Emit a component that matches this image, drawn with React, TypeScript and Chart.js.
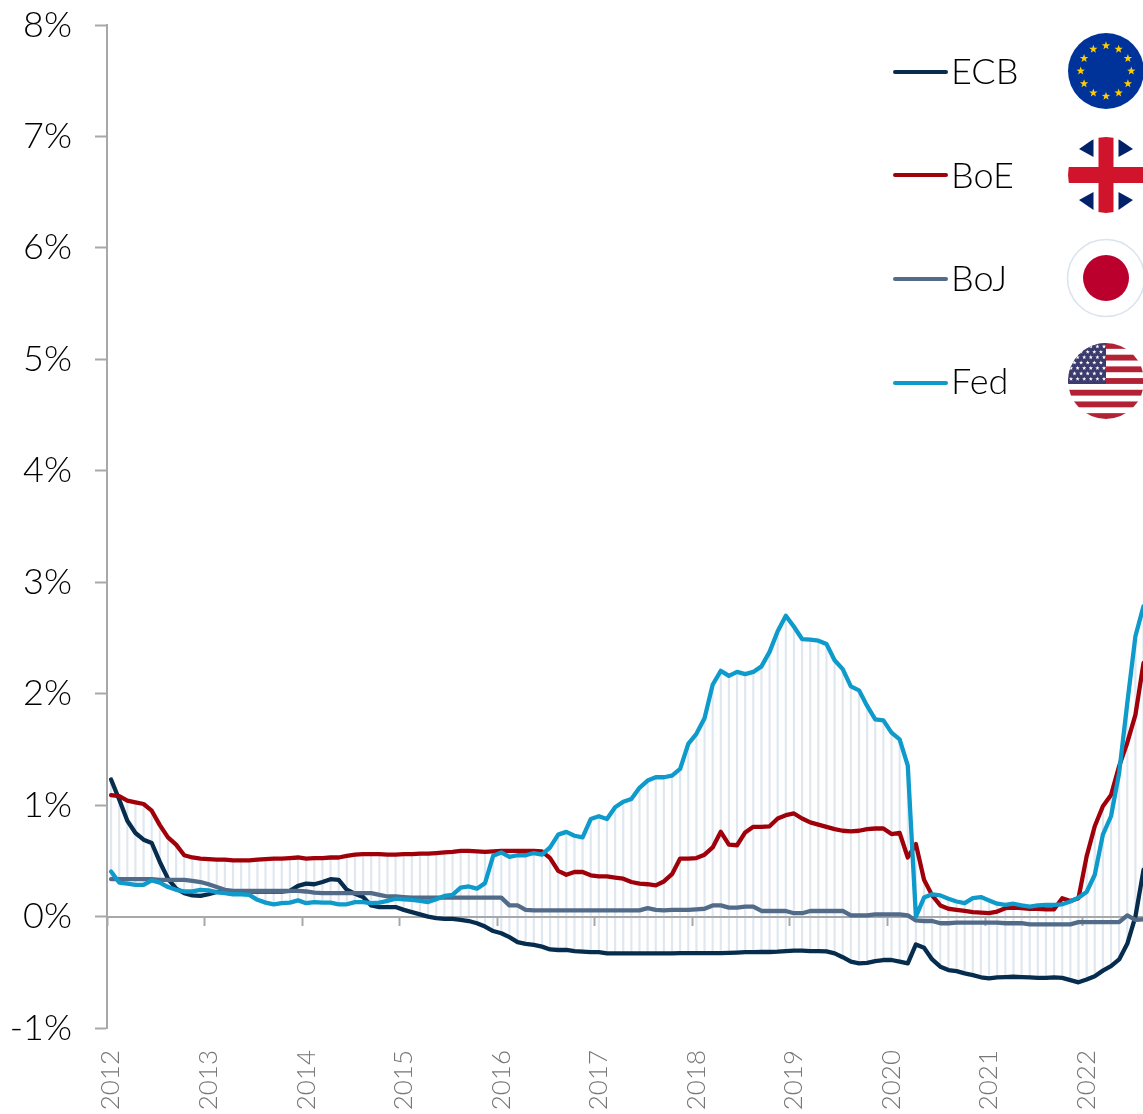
import React, { useEffect, useRef } from "react";
import { Chart, registerables } from "chart.js";

Chart.register(...registerables);

const YEARS = ["2012", "2013", "2014", "2015", "2016", "2017", "2018", "2019", "2020", "2021", "2022"];
const MONTHS = ["01", "02", "03", "04", "05", "06", "07", "08", "09", "10", "11", "12"];
const categories: string[] = [];
YEARS.forEach((y) => MONTHS.forEach((m) => categories.push(`${y}-${m}`)));
categories.length = 128;

const ecb = [
  1.23, 1.05, 0.86, 0.75, 0.69, 0.66, 0.49, 0.34, 0.25, 0.21, 0.19, 0.185,
  0.2, 0.22, 0.22, 0.225, 0.225, 0.225, 0.225, 0.225, 0.225, 0.225, 0.23, 0.275,
  0.295, 0.29, 0.31, 0.335, 0.33, 0.24, 0.205, 0.175, 0.1, 0.085, 0.085, 0.085,
  0.06, 0.04, 0.02, 0, -0.015, -0.02, -0.02, -0.03, -0.04, -0.06, -0.09, -0.13,
  -0.15, -0.185, -0.23, -0.245, -0.255, -0.27, -0.295, -0.3, -0.3, -0.31, -0.315, -0.32,
  -0.32, -0.33, -0.33, -0.33, -0.33, -0.33, -0.33, -0.33, -0.33, -0.33, -0.328, -0.328,
  -0.328, -0.328, -0.328, -0.328, -0.325, -0.323, -0.32, -0.32, -0.318, -0.318, -0.315, -0.31,
  -0.305, -0.305, -0.31, -0.31, -0.313, -0.33, -0.365, -0.405, -0.42, -0.415, -0.4, -0.39,
  -0.39, -0.405, -0.42, -0.25, -0.28, -0.385, -0.45, -0.48, -0.49, -0.51, -0.525, -0.545,
  -0.555, -0.545, -0.543, -0.54, -0.543, -0.545, -0.55, -0.55, -0.545, -0.55, -0.57, -0.59,
  -0.565, -0.535, -0.485, -0.445, -0.385, -0.245, 0, 0.42,
];
const boe = [
  1.09, 1.08, 1.04, 1.025, 1.01, 0.95, 0.82, 0.71, 0.645, 0.55, 0.53, 0.52,
  0.515, 0.51, 0.51, 0.505, 0.505, 0.505, 0.51, 0.515, 0.52, 0.52, 0.525, 0.53,
  0.52, 0.525, 0.525, 0.53, 0.53, 0.545, 0.555, 0.56, 0.56, 0.56, 0.555, 0.555,
  0.56, 0.56, 0.565, 0.565, 0.57, 0.575, 0.58, 0.59, 0.59, 0.585, 0.58, 0.585,
  0.59, 0.59, 0.59, 0.59, 0.59, 0.585, 0.525, 0.41, 0.375, 0.4, 0.4, 0.37,
  0.36, 0.36, 0.35, 0.34, 0.31, 0.295, 0.29, 0.28, 0.315, 0.38, 0.52, 0.52,
  0.525, 0.555, 0.62, 0.76, 0.645, 0.64, 0.755, 0.805, 0.805, 0.81, 0.88, 0.91,
  0.925, 0.88, 0.845, 0.825, 0.805, 0.785, 0.77, 0.765, 0.77, 0.785, 0.79, 0.79,
  0.74, 0.75, 0.53, 0.65, 0.33, 0.19, 0.1, 0.07, 0.06, 0.05, 0.04, 0.035,
  0.03, 0.045, 0.075, 0.08, 0.075, 0.07, 0.07, 0.065, 0.065, 0.165, 0.14, 0.165,
  0.54, 0.81, 0.99, 1.09, 1.35, 1.56, 1.81, 2.275,
];
const boj = [
  0.335, 0.335, 0.335, 0.335, 0.335, 0.335, 0.33, 0.33, 0.33, 0.33, 0.32, 0.31,
  0.29, 0.265, 0.24, 0.23, 0.23, 0.23, 0.23, 0.23, 0.23, 0.23, 0.23, 0.23,
  0.225, 0.215, 0.21, 0.21, 0.21, 0.21, 0.21, 0.21, 0.21, 0.195, 0.18, 0.18,
  0.175, 0.17, 0.17, 0.17, 0.17, 0.17, 0.17, 0.17, 0.17, 0.17, 0.17, 0.17,
  0.17, 0.1, 0.1, 0.06, 0.055, 0.055, 0.055, 0.055, 0.055, 0.055, 0.055, 0.055,
  0.055, 0.055, 0.055, 0.055, 0.055, 0.055, 0.075, 0.06, 0.055, 0.06, 0.06, 0.06,
  0.065, 0.07, 0.1, 0.1, 0.08, 0.08, 0.09, 0.09, 0.05, 0.05, 0.05, 0.05,
  0.03, 0.03, 0.05, 0.05, 0.05, 0.05, 0.05, 0.01, 0.01, 0.01, 0.02, 0.02,
  0.02, 0.02, 0.01, -0.035, -0.04, -0.04, -0.06, -0.06, -0.055, -0.055, -0.055, -0.055,
  -0.055, -0.055, -0.06, -0.06, -0.06, -0.07, -0.07, -0.07, -0.07, -0.07, -0.07, -0.05,
  -0.05, -0.05, -0.05, -0.05, -0.05, 0.01, -0.03, -0.025,
];
const fed = [
  0.405, 0.305, 0.295, 0.285, 0.285, 0.325, 0.305, 0.265, 0.24, 0.225, 0.225, 0.24,
  0.235, 0.22, 0.21, 0.2, 0.2, 0.195, 0.15, 0.125, 0.11, 0.12, 0.125, 0.145,
  0.12, 0.13, 0.125, 0.125, 0.11, 0.11, 0.13, 0.13, 0.12, 0.125, 0.14, 0.16,
  0.155, 0.15, 0.14, 0.13, 0.155, 0.185, 0.195, 0.26, 0.27, 0.25, 0.3, 0.545,
  0.575, 0.535, 0.55, 0.55, 0.57, 0.555, 0.62, 0.735, 0.76, 0.725, 0.71, 0.875,
  0.9, 0.875, 0.98, 1.03, 1.055, 1.155, 1.22, 1.25, 1.25, 1.265, 1.325, 1.55,
  1.64, 1.78, 2.08, 2.205, 2.16, 2.195, 2.175, 2.195, 2.245, 2.375, 2.56, 2.7,
  2.6, 2.49, 2.485, 2.475, 2.445, 2.3, 2.22, 2.065, 2.03, 1.89, 1.77, 1.76,
  1.65, 1.59, 1.355, 0, 0.17, 0.2, 0.19, 0.16, 0.135, 0.12, 0.165, 0.175,
  0.145, 0.115, 0.105, 0.115, 0.1, 0.09, 0.1, 0.105, 0.105, 0.11, 0.135, 0.17,
  0.22, 0.375, 0.735, 0.9, 1.29, 1.915, 2.515, 2.785,
];

const legendNames = ["ECB", "BoE", "BoJ", "Fed"];
const lineColors = ["#062c4e", "#a00009", "#516b88", "#0e9acb"];

const TEXT_FONT = "Lato";
const AXIS_GREY = "#a8a8a8";

function star(cx: number, cy: number, R: number, r: number) {
  return Array.from({ length: 10 }, (_, j) => {
    const rad = j % 2 === 0 ? R : r;
    const b = (j * Math.PI) / 5;
    return `${cx + rad * Math.sin(b)},${cy - rad * Math.cos(b)}`;
  }).join(" ");
}

function EuFlag() {
  const stars = Array.from({ length: 12 }, (_, k) => {
    const a = (k * Math.PI) / 6;
    return <polygon key={k} points={star(38 + 25.3 * Math.sin(a), 38 - 25.3 * Math.cos(a), 4.4, 1.8)} fill="#ffcc00" />;
  });
  return (
    <svg width="76" height="76" viewBox="0 0 76 76" style={{ display: "block" }}>
      <circle cx="38" cy="38" r="38" fill="#003399" />
      {stars}
    </svg>
  );
}

function UkFlag() {
  return (
    <svg width="76" height="76" viewBox="0 0 76 76" style={{ display: "block" }}>
      <defs>
        <clipPath id="ukc"><circle cx="38" cy="38" r="38" /></clipPath>
      </defs>
      <g clipPath="url(#ukc)">
        <rect width="76" height="76" fill="#fff" />
        <polygon points="11,12 25.5,2 25.5,20" fill="#012169" />
        <polygon points="65,12 50.5,2 50.5,20" fill="#012169" />
        <polygon points="11,63 25.5,55 25.5,73" fill="#012169" />
        <polygon points="65,63 50.5,55 50.5,73" fill="#012169" />
        <rect x="30.5" y="0" width="15" height="76" fill="#cf142b" />
        <rect x="0" y="30" width="76" height="16" fill="#cf142b" />
      </g>
    </svg>
  );
}

function JpFlag() {
  return (
    <svg width="80" height="80" viewBox="0 0 80 80" style={{ display: "block" }}>
      <circle cx="40" cy="40" r="38.5" fill="#fff" stroke="#dbe4ee" strokeWidth="1.6" />
      <circle cx="40" cy="40" r="23" fill="#bc002d" />
    </svg>
  );
}

function UsFlag() {
  const stripes = [0, 2, 4, 6, 8, 10, 12].map((k) => (
    <rect key={k} x="0" y={k * (76 / 13)} width="76" height={76 / 13} fill="#b22234" />
  ));
  const stars: any[] = [];
  for (let r = 0; r < 7; r++) {
    const n = r % 2 === 0 ? 6 : 5;
    for (let c = 0; c < n; c++) {
      stars.push(
        <polygon key={`${r}-${c}`} points={star((r % 2 === 0 ? 3 : 6.5) + c * 6.6, 3.5 + r * 5.4, 2.2, 0.9)} fill="#fff" />
      );
    }
  }
  return (
    <svg width="76" height="76" viewBox="0 0 76 76" style={{ display: "block" }}>
      <defs>
        <clipPath id="usc"><circle cx="38" cy="38" r="38" /></clipPath>
      </defs>
      <g clipPath="url(#usc)">
        <rect width="76" height="76" fill="#fff" />
        {stripes}
        <rect x="0" y="0" width="38" height={76 * 7 / 13} fill="#3c3b6e" />
        {stars}
      </g>
    </svg>
  );
}

const legendLayout = [
  { lineY: 71.7, textY: 71, flagY: 33, flagX: 1067.5, Flag: EuFlag },
  { lineY: 175, textY: 174.5, flagY: 137, flagX: 1067.5, Flag: UkFlag },
  { lineY: 279, textY: 278, flagY: 237.5, flagX: 1065.5, Flag: JpFlag },
  { lineY: 382.7, textY: 381, flagY: 343, flagX: 1067.5, Flag: UsFlag },
];

export default function App() {
  const ref = useRef<HTMLCanvasElement | null>(null);

  useEffect(() => {
    if (!ref.current) return;
    const hiLo = categories.map((_, i) => {
      const v = [ecb[i], boe[i], boj[i], fed[i]];
      return [Math.min(...v), Math.max(...v)];
    });
    const series = [ecb, boe, boj, fed];
    const chart = new Chart(ref.current, {
      type: "line",
      data: {
        labels: categories,
        datasets: [
          ...series.map((data, k) => ({
            type: "line" as const,
            label: legendNames[k],
            data,
            borderColor: lineColors[k],
            backgroundColor: lineColors[k],
            borderWidth: 4.3,
            pointRadius: 0,
            tension: 0,
            borderJoinStyle: "round" as const,
            borderCapStyle: "round" as const,
            order: 4 - k,
          })),
          {
            type: "bar" as const,
            label: "range",
            data: hiLo as any,
            backgroundColor: "rgba(150,175,205,0.3)",
            barThickness: 1.5,
            order: 9,
          },
        ],
      },
      options: {
        animation: false,
        responsive: false,
        devicePixelRatio: 1,
        layout: { padding: { top: 25, left: 0, right: 12.4, bottom: 0 } },
        plugins: { legend: { display: false }, tooltip: { enabled: false } },
        scales: {
          x: {
            type: "category",
            offset: true,
            grid: { display: false },
            border: { display: false },
            afterFit: (s: any) => { s.height = 86; s.paddingLeft = 0; s.paddingRight = 0; },
            ticks: {
              autoSkip: false,
              maxRotation: 90,
              minRotation: 90,
              padding: 14,
              color: "#777777",
              font: { family: TEXT_FONT, size: 26, weight: 300 },
              callback(this: any, v: any) {
                const s = this.getLabelForValue(v) as string;
                return s.endsWith("-01") ? s.slice(0, 4) : "";
              },
            },
          },
          x2: {
            type: "category",
            axis: "x",
            position: { y: 0 },
            offset: true,
            afterFit: (s: any) => { s.paddingLeft = 0; s.paddingRight = 0; },
            border: { display: true, color: AXIS_GREY, width: 2 },
            ticks: { display: false },
            grid: {
              drawOnChartArea: false,
              offset: true,
              drawTicks: true,
              tickLength: 8,
              tickWidth: 2,
              tickColor: (c: any) =>
                c.tick && categories[c.tick.value]?.endsWith("-01") ? AXIS_GREY : "rgba(0,0,0,0)",
            },
          } as any,
          y: {
            min: -1,
            max: 8,
            afterFit: (s: any) => { s.width = 107; s.paddingTop = 0; s.paddingBottom = 0; },
            border: { display: true, color: AXIS_GREY, width: 2 },
            grid: { drawOnChartArea: false, drawTicks: true, tickLength: 12, tickWidth: 2, tickColor: AXIS_GREY },
            ticks: {
              stepSize: 1,
              padding: 23,
              color: "#000",
              font: { family: TEXT_FONT, size: 36, weight: 300 },
              callback: (v: any) => `${v}%`,
            },
          },
        },
      } as any,
    });
    return () => chart.destroy();
  }, []);

  return (
    <div style={{ position: "absolute", left: 0, top: 0, width: 1143, height: 1114, overflow: "hidden", background: "#fff" }}>
      <canvas ref={ref} width={1160} height={1114} style={{ position: "absolute", left: 0, top: 0, display: "block", width: 1160, height: 1114 }} />
      {legendNames.map((name, k) => {
        const L = legendLayout[k];
        const F = L.Flag;
        return (
          <React.Fragment key={name}>
            <div style={{ position: "absolute", left: 893, top: L.lineY - 2, width: 55, height: 4, borderRadius: 2, background: lineColors[k] }} />
            <div style={{ position: "absolute", left: 951, top: L.textY - 26, height: 50, lineHeight: "50px", fontFamily: TEXT_FONT, fontWeight: 300, fontSize: 36, color: "#000" }}>{name}</div>
            <div style={{ position: "absolute", left: L.flagX, top: L.flagY }}><F /></div>
          </React.Fragment>
        );
      })}
    </div>
  );
}
